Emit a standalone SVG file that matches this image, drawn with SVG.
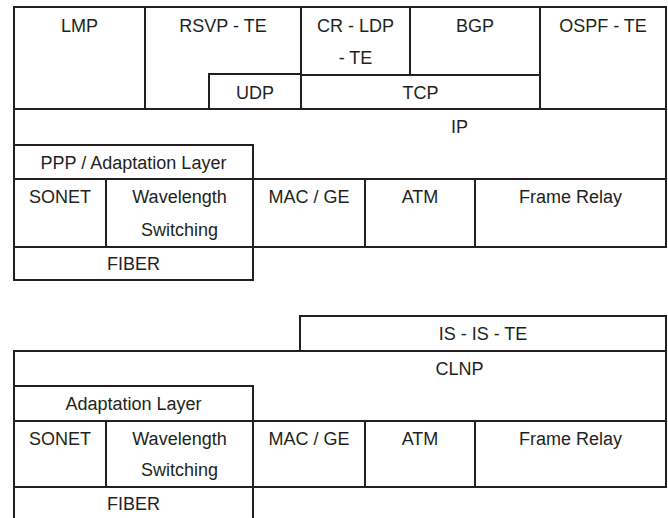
<svg xmlns="http://www.w3.org/2000/svg" width="668" height="518" viewBox="0 0 668 518">
<style>
rect{fill:#fff;stroke:#231f20;stroke-width:2}
text{font-family:"Liberation Sans",Arial,sans-serif;font-size:18px;fill:#231f20;text-anchor:middle}
</style>
<rect x="0" y="0" width="668" height="518" style="stroke:none"/>
<g id="top-stack">
<g id="lmp"><rect x="14" y="7" width="131" height="102"/><text x="79.5" y="32">LMP</text></g>
<g id="rsvp-te"><rect x="145" y="7" width="156" height="102"/><text x="223" y="32">RSVP - TE</text></g>
<g id="udp"><rect x="209" y="74" width="92" height="35"/><text x="255" y="99">UDP</text></g>
<g id="cr-ldp-te"><rect x="301" y="7" width="109" height="68"/><text x="355.5" y="32">CR - LDP</text><text x="355.5" y="64">- TE</text></g>
<g id="bgp"><rect x="410" y="7" width="130" height="68"/><text x="475" y="32">BGP</text></g>
<g id="tcp"><rect x="301" y="75" width="239" height="34"/><text x="420.5" y="99">TCP</text></g>
<g id="ospf-te"><rect x="540" y="7" width="126" height="102"/><text x="603" y="32">OSPF - TE</text></g>
<g id="ip"><rect x="14" y="109" width="652" height="70"/><text x="459.5" y="133">IP</text></g>
<g id="ppp"><rect x="14" y="145" width="239" height="34"/><text x="133.5" y="169">PPP / Adaptation Layer</text></g>
<g id="sonet1"><rect x="14" y="179" width="92" height="68"/><text x="60" y="203">SONET</text></g>
<g id="wavelength1"><rect x="106" y="179" width="147" height="68"/><text x="179.5" y="203">Wavelength</text><text x="179.5" y="236">Switching</text></g>
<g id="macge1"><rect x="253" y="179" width="112" height="68"/><text x="309" y="203">MAC / GE</text></g>
<g id="atm1"><rect x="365" y="179" width="110" height="68"/><text x="420" y="203">ATM</text></g>
<g id="framerelay1"><rect x="475" y="179" width="191" height="68"/><text x="570.5" y="203">Frame Relay</text></g>
<g id="fiber1"><rect x="14" y="247" width="239" height="33"/><text x="133.5" y="270">FIBER</text></g>
</g>
<g id="bottom-stack">
<g id="is-is-te"><rect x="300" y="316" width="366" height="35"/><text x="483" y="340">IS - IS - TE</text></g>
<g id="clnp"><rect x="14" y="351" width="652" height="70"/><text x="459.5" y="375">CLNP</text></g>
<g id="adaptation"><rect x="14" y="386" width="239" height="35"/><text x="133.5" y="410">Adaptation Layer</text></g>
<g id="sonet2"><rect x="14" y="421" width="92" height="66"/><text x="60" y="445">SONET</text></g>
<g id="wavelength2"><rect x="106" y="421" width="147" height="66"/><text x="179.5" y="445">Wavelength</text><text x="179.5" y="476">Switching</text></g>
<g id="macge2"><rect x="253" y="421" width="112" height="66"/><text x="309" y="445">MAC / GE</text></g>
<g id="atm2"><rect x="365" y="421" width="110" height="66"/><text x="420" y="445">ATM</text></g>
<g id="framerelay2"><rect x="475" y="421" width="191" height="66"/><text x="570.5" y="445">Frame Relay</text></g>
<g id="fiber2"><rect x="14" y="487" width="239" height="40"/><text x="133.5" y="510">FIBER</text></g>
</g>
<g id="connectors"></g>
</svg>
